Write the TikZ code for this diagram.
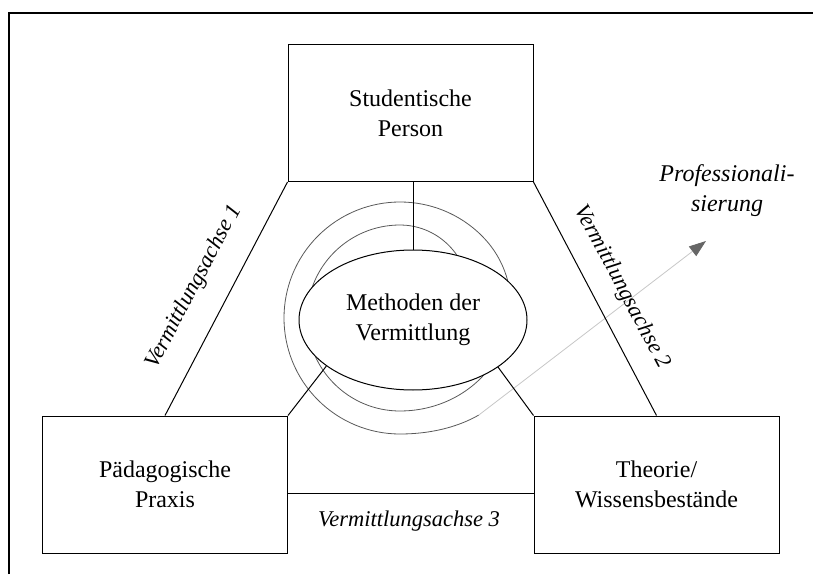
\documentclass[tikz,border=0pt]{standalone}
\usepackage{fontspec}
\setmainfont{Liberation Serif}
\usetikzlibrary{shapes.geometric}
\usetikzlibrary{arrows.meta}

\begin{document}
\begin{tikzpicture}[x=1pt, y=1pt,
  every node/.style={font=\fontsize{24}{30}\selectfont},
  box/.style={draw, line width=1pt, minimum width=245pt, minimum height=137pt, align=center, inner sep=0pt},
  achse/.style={font=\fontsize{22.5}{28}\selectfont\itshape},
  link/.style={line width=1pt},
  spiral/.style={black!65, line width=0.8pt}]
\useasboundingbox (0,0) rectangle (813,574);

% frame
\draw[line width=1.5pt] (9,0) -- (9,561) -- (813,561);

% boxes
\node[box] (person) at (410.5,461) {Studentische\\Person};
\node[box] (praxis) at (165,89.5) {P\"adagogische\\Praxis};
\node[box] (theorie) at (656.5,89.5) {Theorie/\\Wissensbest\"ande};

% spiral
\begin{scope}[shift={(400,256)}]
\draw[spiral] plot[domain=30:90, samples=16, smooth]
    ({(78+15*sin((\x-30)*1.5))*cos(\x)}, {(78+15*sin((\x-30)*1.5))*sin(\x)})
  arc[start angle=90, end angle=270, radius=93pt]
  -- plot[domain=270:405, samples=30, smooth]
    ({(93+11.5*(1-cos((\x-270)*4/3)))*cos(\x)}, {(93+11.5*(1-cos((\x-270)*4/3)))*sin(\x)})
  arc[start angle=45, end angle=270, radius=116pt]
  -- plot[domain=270:309, samples=12, smooth]
    ({(116+9*(1-cos((\x-270)*90/39)))*cos(\x)}, {(116+9*(1-cos((\x-270)*90/39)))*sin(\x)});
\coordinate (spend) at (309:125);
\end{scope}
\coordinate (tip) at (706,333);
\draw[black!22, line width=0.8pt, -{Triangle[length=17pt, width=12pt, color=black!60]}] (spend) -- (tip);

% center
\node[draw, ellipse, line width=1pt, fill=white, minimum width=228pt, minimum height=140pt,
  inner sep=0pt, align=center] (methoden) at (413,254) {Methoden der\\Vermittlung};

\draw[link] (person.south west) -- (praxis.north);
\draw[link] (person.south east) -- (theorie.north);
\draw[link] ([yshift=-8.5pt]praxis.east) -- ([yshift=-8.5pt]theorie.west);
\draw[link] (methoden.north) -- (methoden.north |- person.south);
\draw[link] (praxis.north east) -- (methoden.208);
\draw[link] (theorie.north west) -- (methoden.331);

% labels
\node[achse, rotate=62] (achse1) at (194,287) {Vermittlungsachse 1};
\node[achse, rotate=-62] (achse2) at (622,287) {Vermittlungsachse 2};
\node[achse] (achse3) at (409,53) {Vermittlungsachse 3};
\node[achse, font=\fontsize{24}{30}\selectfont\itshape, align=center] (prof) at (727,383) {Professionali-\\sierung};
\end{tikzpicture}
\end{document}
